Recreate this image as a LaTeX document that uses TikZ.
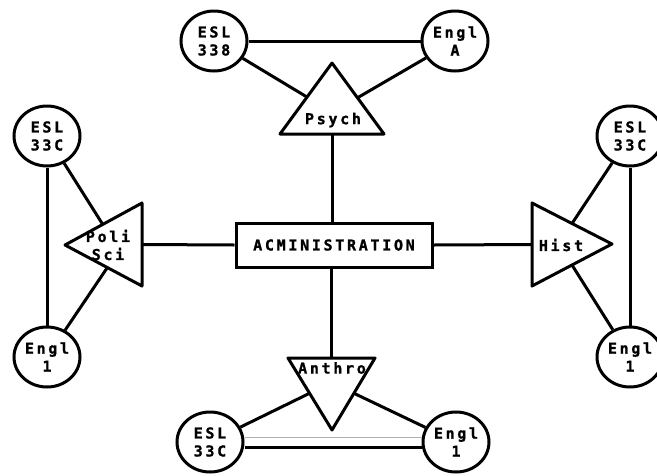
\documentclass[tikz,border=0pt]{standalone}
\usepackage{fontspec}
\newfontfamily\plotfont[LetterSpace=18,FakeBold=1.2]{DejaVu Sans Mono Bold}
\usetikzlibrary{shapes.geometric,calc}
\tikzset{
  lbl/.style={font=\plotfont\fontsize{15}{18}\selectfont, align=center, inner sep=0pt},
  course/.style={ellipse, draw, line width=3pt, minimum width=66pt, minimum height=60pt, inner sep=0pt, lbl},
  tri/.style={draw, line width=3pt, line join=round},
  link/.style={line width=3pt},
  faint/.style={line width=0.8pt, gray!60},
  admin/.style={draw, line width=3pt, minimum width=196pt, minimum height=44pt, lbl}
}
\begin{document}
\begin{tikzpicture}[x=1pt,y=-1pt]
\useasboundingbox (0,0) rectangle (657,475);
% central box
\node[admin] (adm) at (334,245) {ACMINISTRATION};
% top group
\node[course] (esl338) at (214,41) {ESL\\338};
\node[course] (englA) at (455,41) {Engl\\A};
\coordinate (psA) at (332,63);
\coordinate (psB) at (280,134);
\coordinate (psC) at (384,134);
\draw[tri] (psA) -- (psB) -- (psC) -- cycle;
\node[lbl] (psych) at (333,120) {Psych};
\coordinate (psL) at ($(psA)!0.48!(psB)$);
\coordinate (psR) at ($(psA)!0.49!(psC)$);
\coordinate (psBot) at ($(psB)!0.5!(psC)$);
\draw[link] (esl338) -- (englA);
\draw[link] (esl338) -- (psL);
\draw[link] (englA) -- (psR);
\draw[link] (psBot) -- (adm.north -| psBot);
% left group
\node[course] (eslL) at (47,136) {ESL\\33C};
\node[course] (englL) at (47,357) {Engl\\1};
\coordinate (poA) at (65,245);
\coordinate (poB) at (142,203);
\coordinate (poC) at (142,286);
\draw[tri] (poA) -- (poB) -- (poC) -- cycle;
\node[lbl] (poli) at (108,245) {Poli\\Sci};
\coordinate (poU) at ($(poA)!0.49!(poB)$);
\coordinate (poD) at ($(poA)!0.55!(poC)$);
\coordinate (poBack) at ($(poB)!0.5!(poC)$);
\draw[link] (eslL) -- (englL);
\draw[link] (eslL) -- (poU);
\draw[link] (englL) -- (poD);
\draw[link] (poBack) -- (adm.west);
% right group
\node[course] (eslR) at (630,136) {ESL\\33C};
\node[course] (englR) at (630,357) {Engl\\1};
\coordinate (hiA) at (612,244);
\coordinate (hiB) at (532,203);
\coordinate (hiC) at (532,286);
\draw[tri] (hiA) -- (hiB) -- (hiC) -- cycle;
\node[lbl] (hist) at (561,245) {Hist};
\coordinate (hiU) at ($(hiB)!0.5!(hiA)$);
\coordinate (hiD) at ($(hiC)!0.5!(hiA)$);
\coordinate (hiBack) at ($(hiB)!0.5!(hiC)$);
\draw[link] (eslR) -- (englR);
\draw[link] (eslR) -- (hiU);
\draw[link] (englR) -- (hiD);
\draw[link] (adm.east) -- (hiBack);
% bottom group
\node[course] (eslB) at (210,442) {ESL\\33C};
\node[course] (englB) at (456,442) {Engl\\1};
\coordinate (anA) at (332,430);
\coordinate (anB) at (288,358);
\coordinate (anC) at (375,358);
\draw[tri] (anA) -- (anB) -- (anC) -- cycle;
\node[lbl] (anthro) at (332,368) {Anthro};
\coordinate (anL) at ($(anB)!0.49!(anA)$);
\coordinate (anR) at ($(anC)!0.49!(anA)$);
\coordinate (anTop) at ($(anB)!0.5!(anC)$);
\draw[link] (adm.south -| anTop) -- (anTop);
\draw[link] (eslB) -- (anL);
\draw[link] (englB) -- (anR);
\draw[link] ($(eslB.east)+(0,5)$) -- ($(englB.west)+(0,5)$);
\draw[faint] ($(eslB.east)+(0,-5)$) -- ($(englB.west)+(0,-5)$);
\end{tikzpicture}
\end{document}
